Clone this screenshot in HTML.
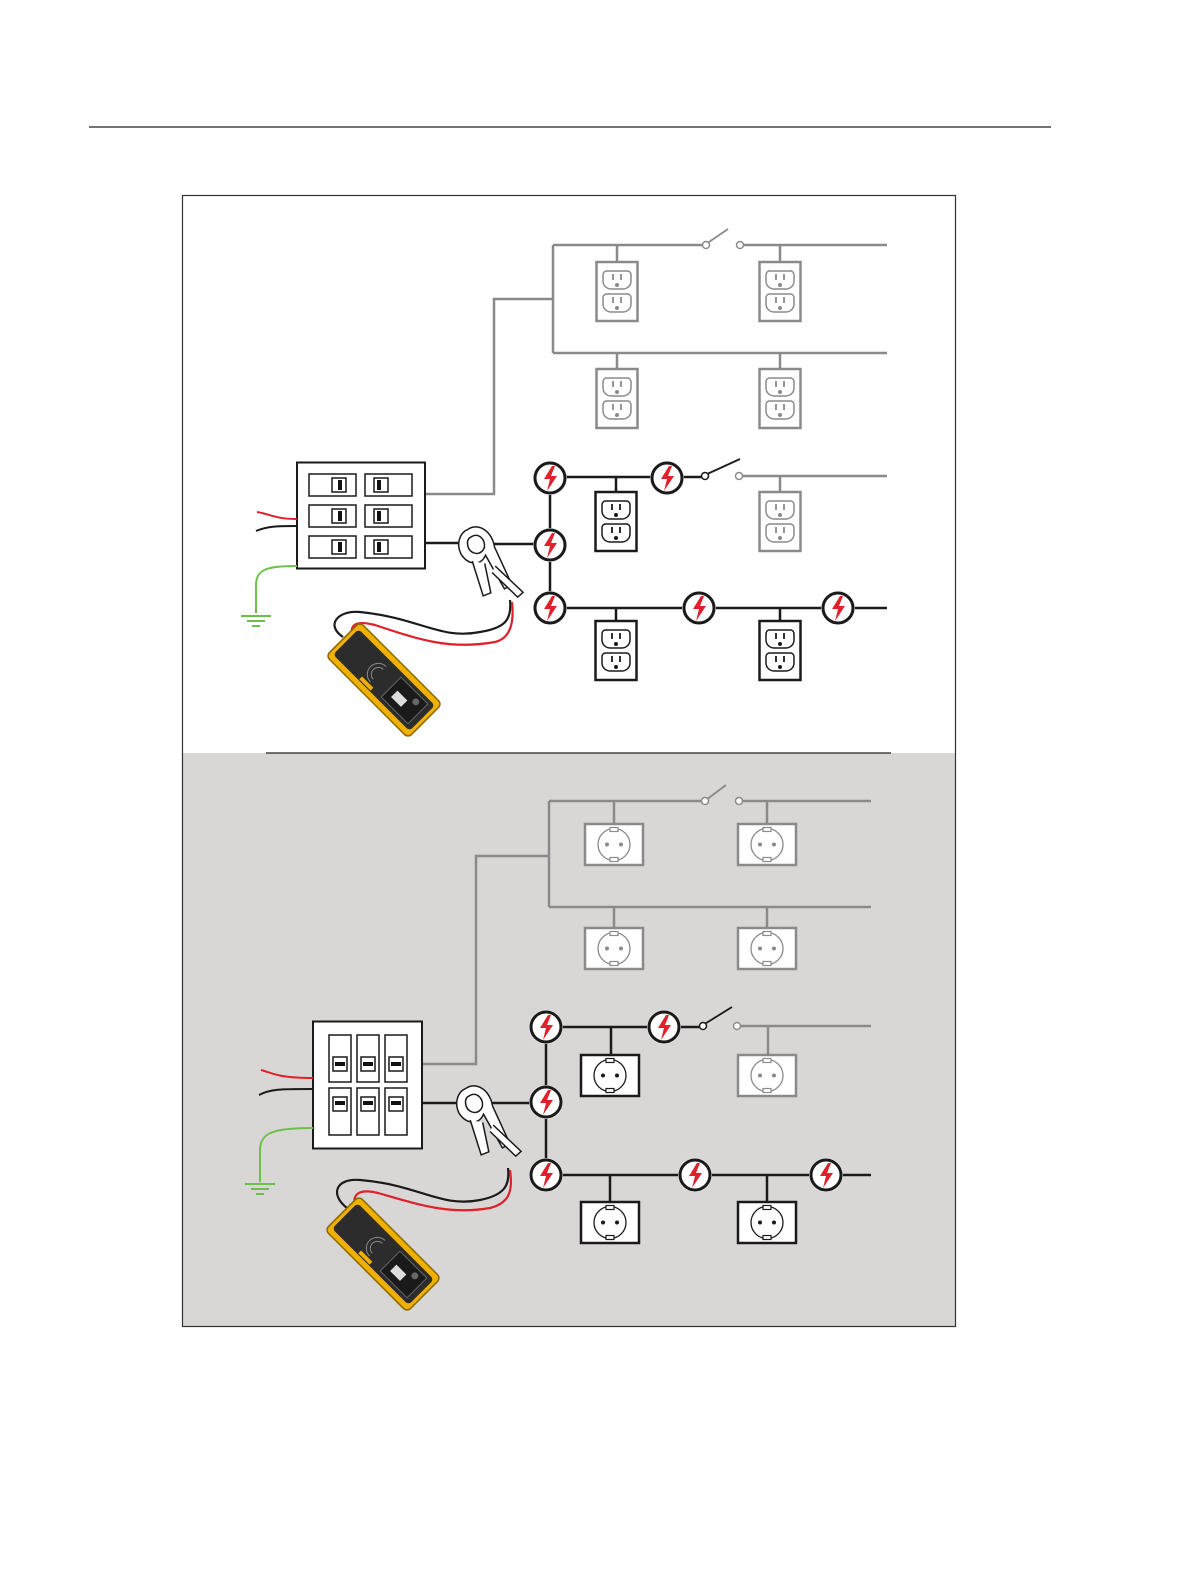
<!DOCTYPE html>
<html><head><meta charset="utf-8"><style>html,body{margin:0;padding:0;background:#fff}svg{display:block}</style></head>
<body>
<svg width="1188" height="1584" viewBox="0 0 1188 1584" xmlns="http://www.w3.org/2000/svg">
<defs>
<g id="bolt">
<circle r="17" fill="#f2f2f2"/>
<circle r="15" fill="#fff" stroke="#1a1a1a" stroke-width="3"/>
<path d="M2,-12 L-6,1 L0,1 L-3,13 L7,-2 L1,-2 L5,-12 Z" fill="#e0202a"/>
</g>
<g id="usr">
<path d="M-11,-9 h22 a4,4 0 0 1 3,4 v6 a8,8 0 0 1 -8,8 h-12 a8,8 0 0 1 -8,-8 v-6 a4,4 0 0 1 3,-4z" fill="none" stroke-width="1.5"/>
<path d="M-4,-6 v6 M4,-6 v6" stroke-width="1.8"/>
<circle cx="0" cy="5" r="1.5"/>
</g>
<g id="usg" stroke="#8a8a8a" fill="#8a8a8a">
<rect x="-20.5" y="0" width="41" height="59" fill="#fff" stroke-width="2.5"/>
<use href="#usr" x="0" y="18"/><use href="#usr" x="0" y="41"/>
</g>
<g id="usb" stroke="#1a1a1a" fill="#1a1a1a">
<rect x="-20.5" y="0" width="41" height="59" fill="#fff" stroke-width="2.5"/>
<use href="#usr" x="0" y="18"/><use href="#usr" x="0" y="41"/>
</g>
<g id="eu">
<rect x="-29" y="0" width="58" height="41" fill="#fff" stroke-width="2.5"/>
<circle cx="0" cy="20.5" r="16" fill="none" stroke-width="1.3"/>
<rect x="-4" y="3.5" width="8" height="4" fill="#fff" stroke-width="1.2"/>
<rect x="-4" y="33.5" width="8" height="4" fill="#fff" stroke-width="1.2"/>
<circle cx="-7" cy="20.5" r="2" stroke="none"/><circle cx="7" cy="20.5" r="2" stroke="none"/>
</g>
<g id="clamp" fill="#fff" stroke="#1a1a1a" stroke-width="1.5">
<path d="M-2,-16 C10,-22 22,-10 22,5 L34,45 L26,48 L12,12 C6,22 -6,20 -12,8 C-16,-4 -10,-14 -2,-16 Z"/>
<path d="M0,-8 C8,-12 14,-4 12,4 C8,12 -2,10 -4,2 C-5,-4 -3,-7 0,-8Z"/>
<path d="M-2,16 L4,52 L12,50 L10,20" />
<path d="M20,24 L44,54 L38,58 L16,30"/>
</g>
<g id="tx">
<rect x="-24" y="-58" width="48" height="116" rx="5" fill="#f0b000" stroke="#8a6a00" stroke-width="1.5"/>
<rect x="-18" y="-54" width="36" height="108" rx="4" fill="#2c2c2c"/>
<rect x="-14" y="10" width="28" height="38" fill="#1a1a1a" stroke="#666"/>
<rect x="-7" y="17" width="9" height="14" fill="#ddd"/>
<circle cx="7" cy="38" r="3.5" fill="#666"/>
<rect x="-17" y="-18" width="4" height="16" fill="#f0b000"/>
<path d="M-7,-8 a7,7 0 0 1 14,0 M-11,-8 a11,11 0 0 1 22,0" stroke="#888" fill="none"/>
</g>
</defs>

<line x1="89" y1="127" x2="1051" y2="127" stroke="#222" stroke-width="1.2"/>
<rect x="182" y="753" width="773" height="574" fill="#d9d6d6"/>
<rect x="182.5" y="195.5" width="773" height="1131" fill="none" stroke="#333" stroke-width="1.2"/>
<line x1="266" y1="753" x2="891" y2="753" stroke="#222" stroke-width="1.2"/>

<!-- TOP -->
<g stroke="#8a8a8a" stroke-width="2.5" fill="none">
<polyline points="425,494 494,494 494,299 553,299"/>
<line x1="553" y1="245" x2="553" y2="353"/>
<line x1="553" y1="245" x2="703" y2="245"/>
<line x1="743" y1="245" x2="887" y2="245"/>
<line x1="553" y1="353" x2="887" y2="353"/>
<line x1="617" y1="245" x2="617" y2="262"/><line x1="780" y1="245" x2="780" y2="262"/>
<line x1="617" y1="353" x2="617" y2="369"/><line x1="780" y1="353" x2="780" y2="369"/>
<line x1="706" y1="244" x2="728" y2="229" stroke-width="1.8"/>
<circle cx="706" cy="245" r="3.5" fill="#fff" stroke-width="1.5"/>
<circle cx="740" cy="245" r="3.5" fill="#fff" stroke-width="1.5"/>
<line x1="743" y1="476" x2="887" y2="476"/>
<line x1="780" y1="476" x2="780" y2="492"/>
<circle cx="739" cy="476" r="3.5" fill="#fff" stroke-width="1.5"/>
</g>
<use href="#usg" x="617" y="262"/><use href="#usg" x="780" y="262"/>
<use href="#usg" x="617" y="369"/><use href="#usg" x="780" y="369"/>
<use href="#usg" x="780" y="492"/>

<g stroke="#1a1a1a" stroke-width="2.5" fill="none">
<line x1="565" y1="477" x2="652" y2="477"/>
<line x1="616" y1="477" x2="616" y2="492"/>
<line x1="682" y1="477" x2="702" y2="477"/>
<line x1="705" y1="475" x2="740" y2="459" stroke-width="1.8"/>
<line x1="550" y1="493" x2="550" y2="530"/>
<line x1="550" y1="560" x2="550" y2="593"/>
<line x1="565" y1="608" x2="684" y2="608"/>
<line x1="714" y1="608" x2="823" y2="608"/>
<line x1="853" y1="608" x2="887" y2="608"/>
<line x1="616" y1="608" x2="616" y2="621"/><line x1="780" y1="608" x2="780" y2="621"/>
<line x1="425" y1="543" x2="460" y2="543"/>
<line x1="475" y1="544" x2="535" y2="544"/>
</g>
<circle cx="705" cy="476" r="3.5" fill="#fff" stroke="#1a1a1a" stroke-width="1.5"/>
<use href="#usb" x="616" y="492"/><use href="#usb" x="616" y="621"/><use href="#usb" x="780" y="621"/>
<use href="#bolt" x="550" y="478"/><use href="#bolt" x="667" y="478"/><use href="#bolt" x="550" y="545"/>
<use href="#bolt" x="550" y="608"/><use href="#bolt" x="699" y="608"/><use href="#bolt" x="838" y="608"/>

<!-- panel top -->
<rect x="297" y="462.5" width="128" height="106" fill="#fff" stroke="#1a1a1a" stroke-width="2"/>
<g fill="#fff" stroke="#1a1a1a" stroke-width="1.5">
<rect x="309" y="474" width="47" height="22"/><rect x="365" y="474" width="47" height="22"/>
<rect x="309" y="505" width="47" height="22"/><rect x="365" y="505" width="47" height="22"/>
<rect x="309" y="536" width="47" height="22"/><rect x="365" y="536" width="47" height="22"/>
<rect x="332" y="478" width="14" height="14"/><rect x="374" y="478" width="14" height="14"/>
<rect x="332" y="509" width="14" height="14"/><rect x="374" y="509" width="14" height="14"/>
<rect x="332" y="540" width="14" height="14"/><rect x="374" y="540" width="14" height="14"/>
</g>
<g fill="#111"><rect x="338" y="480" width="4" height="10"/><rect x="377" y="480" width="4" height="10"/>
<rect x="338" y="511" width="4" height="10"/><rect x="377" y="511" width="4" height="10"/>
<rect x="338" y="542" width="4" height="10"/><rect x="377" y="542" width="4" height="10"/></g>
<path d="M257,512 C270,514 275,519 297,519" stroke="#e0202a" stroke-width="2" fill="none"/>
<path d="M256,531 C268,526 278,526 297,526" stroke="#1a1a1a" stroke-width="2" fill="none"/>
<path d="M297,566 C270,566 256,568 256,585 L256,613" stroke="#6cc04a" stroke-width="2" fill="none"/>
<g stroke="#6cc04a" stroke-width="2"><line x1="241" y1="616" x2="271" y2="616"/><line x1="247" y1="621" x2="265" y2="621"/><line x1="252" y1="626" x2="260" y2="626"/></g>
<path d="M343,637 C325,625 338,610 360,612 C420,618 440,640 480,632 C505,628 512,620 510,600" stroke="#1a1a1a" stroke-width="2.2" fill="none"/>
<path d="M352,636 C350,625 355,620 375,625 C420,640 450,650 495,642 C512,638 514,620 512,602" stroke="#e0202a" stroke-width="2.2" fill="none"/>
<use href="#clamp" transform="translate(472,545) rotate(-8)"/>
<use href="#tx" transform="translate(384,680) rotate(-45)"/>

<!-- BOTTOM -->
<g stroke="#8a8a8a" stroke-width="2.5" fill="none">
<polyline points="422,1064 476,1064 476,856 549,856"/>
<line x1="549" y1="801" x2="549" y2="907"/>
<line x1="549" y1="801" x2="702" y2="801"/>
<line x1="742" y1="801" x2="871" y2="801"/>
<line x1="549" y1="907" x2="871" y2="907"/>
<line x1="614" y1="801" x2="614" y2="824"/><line x1="767" y1="801" x2="767" y2="824"/>
<line x1="614" y1="907" x2="614" y2="928"/><line x1="767" y1="907" x2="767" y2="928"/>
<line x1="706" y1="800" x2="726" y2="785" stroke-width="1.8"/>
<circle cx="705" cy="801" r="3.5" fill="#fff" stroke-width="1.5"/>
<circle cx="739" cy="801" r="3.5" fill="#fff" stroke-width="1.5"/>
<line x1="741" y1="1026" x2="871" y2="1026"/>
<line x1="768" y1="1026" x2="768" y2="1055"/>
<circle cx="737" cy="1026" r="3.5" fill="#fff" stroke-width="1.5"/>
</g>
<g stroke="#8a8a8a" fill="#8a8a8a">
<use href="#eu" x="614" y="824"/><use href="#eu" x="767" y="824"/>
<use href="#eu" x="614" y="928"/><use href="#eu" x="767" y="928"/>
<use href="#eu" x="767" y="1055"/>
</g>
<g stroke="#1a1a1a" stroke-width="2.5" fill="none">
<line x1="561" y1="1027" x2="649" y2="1027"/>
<line x1="611" y1="1027" x2="611" y2="1055"/>
<line x1="679" y1="1027" x2="700" y2="1027"/>
<line x1="703" y1="1025" x2="732" y2="1007" stroke-width="1.8"/>
<line x1="546" y1="1042" x2="546" y2="1087"/>
<line x1="546" y1="1117" x2="546" y2="1160"/>
<line x1="561" y1="1175" x2="680" y2="1175"/>
<line x1="710" y1="1175" x2="811" y2="1175"/>
<line x1="841" y1="1175" x2="871" y2="1175"/>
<line x1="610" y1="1175" x2="610" y2="1202"/><line x1="767" y1="1175" x2="767" y2="1202"/>
<line x1="422" y1="1103" x2="456" y2="1103"/>
<line x1="473" y1="1103" x2="531" y2="1103"/>
</g>
<circle cx="703" cy="1026" r="3.5" fill="#fff" stroke="#1a1a1a" stroke-width="1.5"/>
<g stroke="#1a1a1a" fill="#1a1a1a">
<use href="#eu" x="610" y="1055"/><use href="#eu" x="610" y="1202"/><use href="#eu" x="767" y="1202"/>
</g>
<use href="#bolt" x="546" y="1027"/><use href="#bolt" x="664" y="1027"/><use href="#bolt" x="546" y="1102"/>
<use href="#bolt" x="546" y="1175"/><use href="#bolt" x="695" y="1175"/><use href="#bolt" x="826" y="1175"/>

<rect x="313" y="1021.5" width="109" height="127" fill="#fff" stroke="#1a1a1a" stroke-width="2"/>
<g fill="#fff" stroke="#1a1a1a" stroke-width="1.5">
<rect x="329" y="1035" width="22" height="47"/><rect x="357" y="1035" width="22" height="47"/><rect x="385" y="1035" width="22" height="47"/>
<rect x="329" y="1088" width="22" height="47"/><rect x="357" y="1088" width="22" height="47"/><rect x="385" y="1088" width="22" height="47"/>
<rect x="333" y="1057" width="14" height="14"/><rect x="361" y="1057" width="14" height="14"/><rect x="389" y="1057" width="14" height="14"/>
<rect x="333" y="1097" width="14" height="14"/><rect x="361" y="1097" width="14" height="14"/><rect x="389" y="1097" width="14" height="14"/>
</g>
<g fill="#111"><rect x="335" y="1062" width="10" height="4"/><rect x="363" y="1062" width="10" height="4"/><rect x="391" y="1062" width="10" height="4"/>
<rect x="335" y="1101" width="10" height="4"/><rect x="363" y="1101" width="10" height="4"/><rect x="391" y="1101" width="10" height="4"/></g>
<path d="M261,1070 C275,1074 280,1078 313,1078" stroke="#e0202a" stroke-width="2" fill="none"/>
<path d="M259,1095 C270,1089 280,1089 313,1089" stroke="#1a1a1a" stroke-width="2" fill="none"/>
<path d="M313,1128 C275,1128 260,1132 260,1150 L260,1182" stroke="#6cc04a" stroke-width="2" fill="none"/>
<g stroke="#6cc04a" stroke-width="2"><line x1="245" y1="1184" x2="275" y2="1184"/><line x1="251" y1="1189" x2="269" y2="1189"/><line x1="256" y1="1194" x2="264" y2="1194"/></g>
<path d="M347,1208 C330,1195 335,1178 360,1180 C420,1185 440,1208 480,1200 C505,1195 510,1185 508,1168" stroke="#1a1a1a" stroke-width="2.2" fill="none"/>
<path d="M355,1207 C352,1195 358,1188 378,1193 C420,1205 450,1215 490,1208 C510,1203 513,1190 510,1170" stroke="#e0202a" stroke-width="2.2" fill="none"/>
<use href="#clamp" transform="translate(470,1104) rotate(-8)"/>
<use href="#tx" transform="translate(383,1254) rotate(-45)"/>
</svg>
</body></html>
